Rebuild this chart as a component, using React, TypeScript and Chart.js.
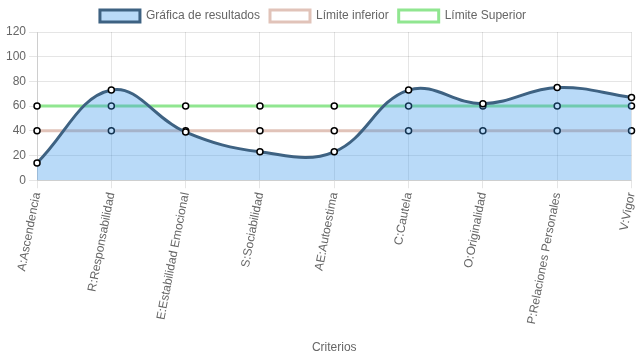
import React, { useEffect, useRef } from "react";
import { Chart, registerables } from "chart.js";

Chart.register(...registerables);

const categories = [
  "A:Ascendencia",
  "R:Responsabilidad",
  "E:Estabilidad Emocional",
  "S:Sociabilidad",
  "AE:Autoestima",
  "C:Cautela",
  "O:Originalidad",
  "P:Relaciones Personales",
  "V:Vigor",
];
const resultados = [14, 73, 39, 23, 23, 73, 62, 75, 67];
const limiteInferior = [40, 40, 40, 40, 40, 40, 40, 40, 40];
const limiteSuperior = [60, 60, 60, 60, 60, 60, 60, 60, 60];

const legendShift = {
  id: "legendShift",
  afterLayout(chart: any) {
    if (chart.legend) {
      chart.legend.left -= 7;
      chart.legend.right -= 7;
    }
  },
};

export default function App() {
  const ref = useRef<HTMLCanvasElement>(null);
  useEffect(() => {
    document.body.style.margin = "0";
    Chart.defaults.font.family = "Arial, 'Liberation Sans', sans-serif";
    Chart.defaults.font.size = 12;
    Chart.defaults.color = "#666";
    const chart = new Chart(ref.current!, {
      type: "line",
      data: {
        labels: categories,
        datasets: [
          {
            label: "Gráfica de resultados",
            data: resultados,
            borderColor: "rgb(62,98,130)",
            backgroundColor: "rgba(54,150,235,0.35)",
            fill: "origin",
            borderWidth: 3,
            tension: 0.4,
            pointRadius: 3,
            pointBorderWidth: 1.5,
            pointBackgroundColor: "#fff",
            pointBorderColor: "#000",
          },
          {
            label: "Límite inferior",
            data: limiteInferior,
            borderColor: "rgba(225,195,185,1)",
            backgroundColor: "#fff",
            fill: false,
            borderWidth: 3,
            pointRadius: 3,
            pointBorderWidth: 1.5,
            pointBackgroundColor: "#fff",
            pointBorderColor: "#000",
          },
          {
            label: "Límite Superior",
            data: limiteSuperior,
            borderColor: "rgba(144,230,144,1)",
            backgroundColor: "#fff",
            fill: false,
            borderWidth: 3,
            pointRadius: 3,
            pointBorderWidth: 1.5,
            pointBackgroundColor: "#fff",
            pointBorderColor: "#000",
          },
        ],
      },
      options: {
        responsive: false,
        animation: false,
        layout: { padding: { left: 3, right: 0, bottom: 0 } },
        plugins: {
          legend: {
            labels: { boxWidth: 40, boxHeight: 12, font: { size: 12 } },
          },
          tooltip: { enabled: false },
        },
        scales: {
          x: {
            title: { display: true, text: "Criterios", padding: { top: 12, bottom: 4 } },
            grid: { color: "rgba(0,0,0,0.1)" },
            ticks: { maxRotation: 79, minRotation: 79 },
            afterFit: (scale: any) => {
              scale.paddingRight = 4;
            },
          },
          y: {
            min: 0,
            max: 120,
            ticks: { stepSize: 20 },
            grid: { color: "rgba(0,0,0,0.1)" },
          },
        },
      },
      plugins: [legendShift],
    });
    return () => chart.destroy();
  }, []);
  return <canvas ref={ref} width={637} height={359} style={{ display: "block" }} />;
}
